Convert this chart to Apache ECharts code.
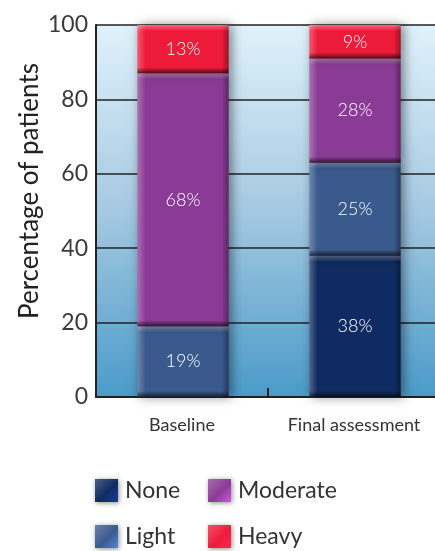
<!DOCTYPE html>
<html>
<head>
<meta charset="utf-8">
<script src="https://cdn.jsdelivr.net/npm/echarts@6/dist/echarts.min.js"></script>
<style>
  html, body { margin: 0; padding: 0; background: #ffffff; }
  #chart { width: 435px; height: 551px; }
</style>
</head>
<body>
<div id="chart"></div>
<script>
// Share of patients by severity level, at baseline and at final assessment
var categories = ['Baseline', 'Final assessment'];
var levels = ['None', 'Light', 'Moderate', 'Heavy'];
var noneValues = [0, 38];
var lightValues = [19, 25];
var moderateValues = [68, 28];
var heavyValues = [13, 9];
var yTicks = [0, 20, 40, 60, 80, 100];

var levelValues = [noneValues, lightValues, moderateValues, heavyValues];
var levelColors = ['#0f2b61', '#3a5a8e', '#8a3b95', '#ee1a3a'];

var FONT = 'Lato, "Open Sans", sans-serif';

// Stack the levels: each item is [category index, bottom, top, value]
function stackedData(levelIndex) {
  return categories.map(function (c, ci) {
    var bottom = 0;
    for (var k = 0; k < levelIndex; k++) bottom += levelValues[k][ci];
    var v = levelValues[levelIndex][ci];
    return [ci, bottom, bottom + v, v];
  });
}

function grad(x2, y2, stops) {
  return new echarts.graphic.LinearGradient(0, 0, x2, y2, stops);
}

// Beveled bar segment: base block plus light/dark edge strips
function makeRenderItem(color) {
  return function (params, api) {
    var ci = api.value(0);
    var v = api.value(3);
    if (!v) return null;
    var p0 = api.coord([ci, api.value(1)]);
    var p1 = api.coord([ci, api.value(2)]);
    var w = api.size([1, 0])[0] * 0.53;
    var x = p0[0] - w / 2 + 1;
    var y = p1[1];
    var h = p0[1] - p1[1];
    var e = 6;
    return {
      type: 'group',
      children: [
        {
          type: 'rect',
          shape: { x: x, y: y, width: w, height: h },
          style: {
            fill: color,
            shadowBlur: 10,
            shadowColor: 'rgba(0,0,0,0.45)',
            shadowOffsetX: 3,
            shadowOffsetY: 0
          }
        },
        {
          type: 'rect',
          shape: { x: x, y: y, width: 8, height: h },
          style: { fill: grad(1, 0, [{ offset: 0, color: 'rgba(255,255,255,0.28)' }, { offset: 1, color: 'rgba(255,255,255,0)' }]) },
          silent: true
        },
        {
          type: 'rect',
          shape: { x: x + w - 7, y: y, width: 7, height: h },
          style: { fill: grad(1, 0, [{ offset: 0, color: 'rgba(0,0,0,0)' }, { offset: 1, color: 'rgba(0,0,0,0.35)' }]) },
          silent: true
        },
        {
          type: 'rect',
          shape: { x: x, y: y, width: w, height: e },
          style: { fill: grad(0, 1, [{ offset: 0, color: 'rgba(255,255,255,0.35)' }, { offset: 1, color: 'rgba(255,255,255,0)' }]) },
          silent: true
        },
        {
          type: 'rect',
          shape: { x: x, y: y + h - e, width: w, height: e },
          style: { fill: grad(0, 1, [{ offset: 0, color: 'rgba(0,0,0,0)' }, { offset: 1, color: 'rgba(0,0,0,0.65)' }]) },
          silent: true
        },
        {
          type: 'text',
          style: {
            text: v + '%',
            x: x + w / 2,
            y: y + h / 2,
            align: 'center',
            verticalAlign: 'middle',
            fill: '#ffffff',
            font: '300 18px ' + FONT
          },
          silent: true
        }
      ]
    };
  };
}

var series = levels.map(function (name, i) {
  return {
    name: name,
    type: 'custom',
    renderItem: makeRenderItem(levelColors[i]),
    encode: { x: 0, y: [1, 2] },
    itemStyle: { color: levelColors[i] },
    data: stackedData(i),
    z: 2
  };
});

function legendItem(name) {
  var c = levelColors[levels.indexOf(name)];
  return {
    name: name,
    itemStyle: {
      color: grad(1, 1, [{ offset: 0, color: echarts.color.lift(c, 0.25) }, { offset: 0.55, color: c }, { offset: 1, color: echarts.color.lift(c, -0.5) }]),
      shadowBlur: 5,
      shadowColor: 'rgba(0,0,0,0.45)',
      shadowOffsetX: 1,
      shadowOffsetY: 1
    }
  };
}

// One legend block per entry, laid out as a 2x2 grid
function legendAt(name, left, top) {
  return {
    orient: 'horizontal',
    left: left,
    top: top,
    itemWidth: 23,
    itemHeight: 23,
    icon: 'rect',
    selectedMode: false,
    padding: 0,
    textStyle: { fontFamily: FONT, fontSize: 23, color: '#333333', padding: [0, 0, 0, 2] },
    data: [legendItem(name)]
  };
}

var option = {
  animation: false,
  backgroundColor: '#ffffff',
  grid: {
    left: 96,
    top: 25,
    width: 344,
    height: 372,
    outerBoundsMode: 'none',
    containLabel: false,
    show: true,
    borderWidth: 0,
    backgroundColor: grad(0, 1, [
      { offset: 0, color: '#e0f2fb' },
      { offset: 0.5, color: '#a5c9e2' },
      { offset: 1, color: '#4a9bc9' }
    ])
  },
  legend: [
    legendAt('None', 95, 479),
    legendAt('Moderate', 208, 479),
    legendAt('Light', 95, 525),
    legendAt('Heavy', 208, 525)
  ],
  xAxis: {
    type: 'category',
    data: categories,
    axisLine: { show: true, lineStyle: { color: '#222222', width: 2 } },
    axisTick: { show: true, inside: true, interval: 0, length: 9, lineStyle: { color: '#222222', width: 2 } },
    axisLabel: { interval: 0, hideOverlap: false, fontFamily: FONT, fontSize: 18, color: '#333333', margin: 19 },
    splitLine: { show: false }
  },
  yAxis: {
    type: 'value',
    min: 0,
    max: 100,
    interval: 20,
    axisLine: { show: true, lineStyle: { color: '#222222', width: 2 } },
    axisTick: { show: false },
    axisLabel: {
      fontFamily: FONT,
      fontSize: 23,
      color: '#3a3a3a',
      margin: 8,
      formatter: function (v) { return yTicks.indexOf(v) >= 0 ? String(v) : ''; }
    },
    splitLine: { show: true, lineStyle: { color: '#222222', width: 1.5 } },
    name: 'Percentage of patients',
    nameLocation: 'middle',
    nameRotate: 90,
    nameGap: 53,
    nameMoveOverlap: false,
    nameTextStyle: { fontFamily: FONT, fontSize: 26, color: '#222222', padding: [0, 0, 0, 40] }
  },
  series: series
};

var chart = echarts.init(document.getElementById('chart'), null, { renderer: 'canvas' });
chart.setOption(option);
</script>
</body>
</html>
